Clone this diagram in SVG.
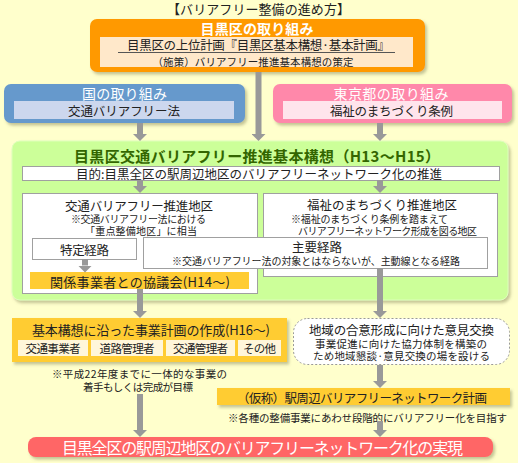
<svg xmlns="http://www.w3.org/2000/svg" width="518" height="463" viewBox="0 0 518 463">
<defs>
<filter id="sh" x="-5%" y="-5%" width="115%" height="130%">
<feDropShadow dx="2" dy="2.5" stdDeviation="1.5" flood-color="#7a7a50" flood-opacity="0.45"/>
</filter>
<marker id="ah" viewBox="0 0 7 14" refX="0" refY="7" markerWidth="7" markerHeight="14" markerUnits="userSpaceOnUse" orient="auto">
<path d="M0,0 L7,7 L0,14 z" fill="#999999"/>
</marker>
<style>
text{font-family:"Noto Sans CJK JP","Noto Sans CJK SC",sans-serif;dominant-baseline:central;text-anchor:middle;fill:#222;}
.w{fill:#ffffff;}
.b{font-weight:bold;}
.box{fill:#ffffff;stroke:#a0a0a0;stroke-width:1;}
.gold{fill:#FFCC33;}
.cream{fill:#FFF6DA;}
.con line{stroke:#999999;stroke-width:6;marker-end:url(#ah);}
</style>
</defs>
<rect x="0" y="0" width="518" height="463" fill="#FFFFCC"/>

<g id="title"><text x="258.5" y="8" font-size="13" textLength="183" lengthAdjust="spacing">【バリアフリー整備の進め方】</text></g>

<g id="meguro">
<rect x="90" y="19" width="335" height="53" rx="7" fill="#FF9900" filter="url(#sh)"/>
<text x="257" y="28" class="w b" font-size="14" textLength="113" lengthAdjust="spacing">目黒区の取り組み</text>
<rect x="100" y="37" width="313" height="30" fill="#FFE8CA"/>
<text x="258.5" y="44" font-size="12.5" textLength="263" lengthAdjust="spacing">目黒区の上位計画『目黒区基本構想·基本計画』</text>
<line x1="118" y1="52.5" x2="395" y2="52.5" stroke="#555" stroke-width="1"/>
<text x="253" y="61" font-size="10.5" textLength="201" lengthAdjust="spacing">（施策）バリアフリー推進基本構想の策定</text>
</g>

<g id="kuni">
<rect x="4" y="84" width="241" height="39" rx="7" fill="#6699CC" filter="url(#sh)"/>
<text x="124.5" y="93" class="w" font-size="14" textLength="85" lengthAdjust="spacing">国の取り組み</text>
<rect x="14" y="101" width="220" height="18" fill="#CCD7EE"/>
<text x="124" y="110" font-size="12.5" textLength="112" lengthAdjust="spacing">交通バリアフリー法</text>
</g>

<g id="tokyo">
<rect x="273" y="84" width="239" height="39" rx="7" fill="#FF88AA" filter="url(#sh)"/>
<text x="391" y="93" class="w" font-size="14" textLength="115" lengthAdjust="spacing">東京都の取り組み</text>
<rect x="283" y="101" width="219" height="18" fill="#FFE4EC"/>
<text x="391.5" y="110" font-size="12.5" textLength="123" lengthAdjust="spacing">福祉のまちづくり条例</text>
</g>

<g id="kihonkoso">
<rect x="12" y="141" width="496" height="159" rx="8" fill="#CCFF99" stroke="#DDFFBB" stroke-width="1" filter="url(#sh)"/>
<text x="257" y="155" class="b" font-size="15" style="fill:#336600" textLength="366" lengthAdjust="spacing">目黒区交通バリアフリー推進基本構想（H13～H15）</text>
</g>

<g id="purpose">
<rect x="22.5" y="166.5" width="477" height="14" class="box"/>
<text x="259" y="173.5" font-size="12.5" textLength="366" lengthAdjust="spacing">目的:目黒全区の駅周辺地区のバリアフリーネットワーク化の推進</text>
</g>

<g id="kotsu-district">
<rect x="22.5" y="193.5" width="235" height="100" class="box"/>
<text x="139" y="205.5" font-size="12.5" textLength="148" lengthAdjust="spacing">交通バリアフリー推進地区</text>
<text x="138.5" y="218" font-size="10" textLength="135" lengthAdjust="spacing">※交通バリアフリー法における</text>
<text x="141" y="230" font-size="10" textLength="112" lengthAdjust="spacing">「重点整備地区」に相当</text>
</g>

<g id="fukushi-district">
<rect x="263.5" y="193.5" width="234" height="83" class="box"/>
<text x="382" y="204.5" font-size="12.5" textLength="150" lengthAdjust="spacing">福祉のまちづくり推進地区</text>
<text x="369.5" y="218" font-size="10" textLength="157" lengthAdjust="spacing">※福祉のまちづくり条例を踏まえて</text>
<text x="387.5" y="230" font-size="10" textLength="179" lengthAdjust="spacing">バリアフリーネットワーク形成を図る地区</text>
</g>

<g id="tokutei">
<rect x="32.5" y="238.5" width="104" height="21" class="box"/>
<text x="84.5" y="249" font-size="12.5" textLength="49" lengthAdjust="spacing">特定経路</text>
</g>

<g id="shuyo">
<rect x="143.5" y="237.5" width="344" height="31" class="box"/>
<text x="317" y="246" font-size="12.5" textLength="50" lengthAdjust="spacing">主要経路</text>
<text x="316" y="260" font-size="10" textLength="288" lengthAdjust="spacing">※交通バリアフリー法の対象とはならないが、主動線となる経路</text>
</g>

<g id="kyogikai">
<rect x="30" y="272" width="219" height="17" class="gold"/>
<text x="140" y="281" font-size="13" textLength="180" lengthAdjust="spacing">関係事業者との協議会(H14～)</text>
</g>

<g id="jigyo-keikaku">
<rect x="12" y="318" width="275" height="44" class="gold" filter="url(#sh)"/>
<text x="151" y="329" font-size="13" textLength="238" lengthAdjust="spacing">基本構想に沿った事業計画の作成(H16～)</text>
<rect x="18" y="340" width="70" height="16" class="cream"/>
<text x="53" y="348" font-size="11.5" textLength="55" lengthAdjust="spacing">交通事業者</text>
<rect x="91" y="340" width="72" height="16" class="cream"/>
<text x="127" y="348" font-size="11.5" textLength="55" lengthAdjust="spacing">道路管理者</text>
<rect x="166" y="340" width="69" height="16" class="cream"/>
<text x="200.5" y="348" font-size="11.5" textLength="55" lengthAdjust="spacing">交通管理者</text>
<rect x="238" y="340" width="43" height="16" class="cream"/>
<text x="259.5" y="348" font-size="11.5" textLength="33" lengthAdjust="spacing">その他</text>
</g>

<g id="note-left">
<text x="139.5" y="373" font-size="10.5" textLength="175" lengthAdjust="spacing">※平成22年度までに一体的な事業の</text>
<text x="138" y="386" font-size="10.5" textLength="110" lengthAdjust="spacing">着手もしくは完成が目標</text>
</g>

<g id="iken-kokan">
<rect x="293.5" y="318.5" width="216" height="46" rx="14" fill="#ffffff" stroke="#999" stroke-width="1" stroke-dasharray="2,2"/>
<text x="401.5" y="329" font-size="12.5" textLength="185" lengthAdjust="spacing">地域の合意形成に向けた意見交換</text>
<text x="401" y="343" font-size="10.5" textLength="172" lengthAdjust="spacing">事業促進に向けた協力体制を構築の</text>
<text x="401.5" y="355" font-size="10.5" textLength="177" lengthAdjust="spacing">ため地域懇談·意見交換の場を設ける</text>
</g>

<g id="network-keikaku">
<rect x="217" y="388" width="293" height="17" class="gold" filter="url(#sh)"/>
<text x="362" y="397.5" font-size="12.5" textLength="250" lengthAdjust="spacing">（仮称）駅周辺バリアフリーネットワーク計画</text>
<text x="367.5" y="417" font-size="10.5" textLength="279" lengthAdjust="spacing">※各種の整備事業にあわせ段階的にバリアフリー化を目指す</text>
</g>

<g id="jitsugen">
<rect x="28" y="437" width="465" height="20" rx="8" fill="#FF6666" filter="url(#sh)"/>
<text x="262.5" y="447" class="w" font-size="16" textLength="401" lengthAdjust="spacing">目黒全区の駅周辺地区のバリアフリーネットワーク化の実現</text>
</g>

<g id="connectors" class="con">
<line x1="258.5" y1="72" x2="258.5" y2="134"/>
<line x1="140" y1="123" x2="140" y2="134"/>
<line x1="380" y1="123" x2="380" y2="134"/>
<line x1="140" y1="180" x2="140" y2="186"/>
<line x1="380" y1="180" x2="380" y2="186"/>
<line x1="85" y1="259" x2="85" y2="265.5"/>
<line x1="140" y1="289" x2="140" y2="311"/>
<line x1="380" y1="268" x2="380" y2="311"/>
<line x1="380" y1="365" x2="380" y2="381"/>
<line x1="140" y1="394" x2="140" y2="430"/>
<line x1="380" y1="421" x2="380" y2="430"/>
</g>
</svg>
